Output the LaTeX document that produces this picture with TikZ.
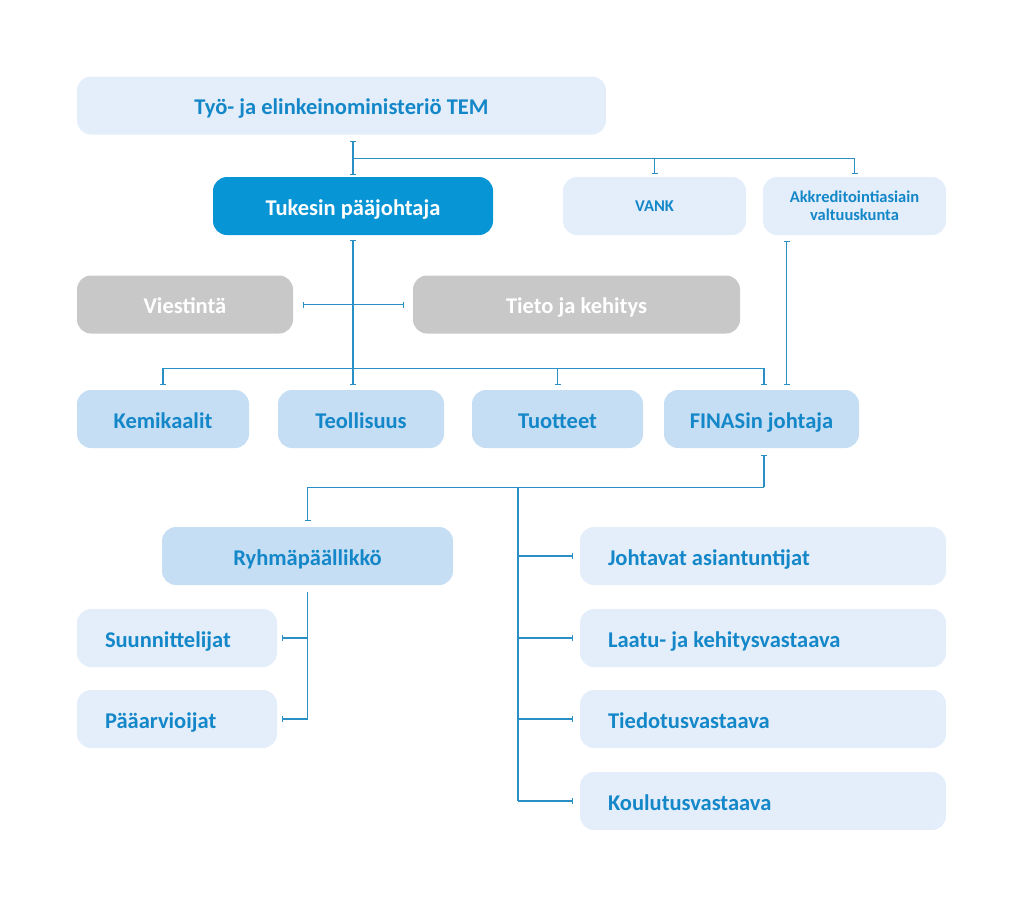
\documentclass[tikz,border=0pt]{standalone}
\usepackage{fontspec}
\setmainfont{Carlito}
\usetikzlibrary{arrows.meta,calc}
\definecolor{lightbox}{HTML}{E3EEFA}
\definecolor{midbox}{HTML}{C6DEF4}
\definecolor{darkbox}{HTML}{0895D6}
\definecolor{greybox}{HTML}{C8C8C8}
\definecolor{bluetext}{HTML}{1487C9}
\definecolor{linec}{HTML}{2A8FC4}
\tikzset{
  box/.style={rounded corners=14pt, inner sep=0pt, minimum height=58pt, font=\fontsize{22.5}{26}\selectfont\bfseries, text=bluetext, text height=18pt, text depth=0pt},
  lightb/.style={box, fill=lightbox},
  midb/.style={box, fill=midbox},
  darkb/.style={box, fill=darkbox, text=white},
  greyb/.style={box, fill=greybox, text=white},
  leftb/.style={lightb, inner xsep=28pt, text width=#1, align=flush left},
  smallb/.style={box, fill=lightbox, font=\fontsize{16.5}{17.5}\selectfont\bfseries, align=center, text height=, text depth=},
  conn/.style={draw=linec, line width=1.3pt},
  cE/.style={conn, -{Bar[width=6pt,line width=1.2pt]}},
  cS/.style={conn, {Bar[width=6pt,line width=1.2pt]}-},
  cSE/.style={conn, {Bar[width=6pt,line width=1.2pt]}-{Bar[width=6pt,line width=1.2pt]}}
}
\begin{document}
\begin{tikzpicture}[x=1pt,y=-1pt]
\useasboundingbox (0,0) rectangle (1024,908);
% boxes
\node[lightb, minimum width=529pt] (tem) at (341.5,105.5) {Työ- ja elinkeinoministeriö TEM};
\node[darkb, minimum width=280pt] (tuk) at (353,206) {Tukesin pääjohtaja};
\node[smallb, minimum width=183pt] (vank) at (654.5,206) {VANK};
\node[smallb, minimum width=183pt] (akk) at (854.5,206) {Akkreditointiasiain\\valtuuskunta};
\node[greyb, minimum width=216pt] (vie) at (185,304.5) {Viestintä};
\node[greyb, minimum width=327pt] (tie) at (576.5,304.5) {Tieto ja kehitys};
\node[midb, minimum width=172pt] (kem) at (163,419) {Kemikaalit};
\node[midb, minimum width=166pt] (teo) at (361,419) {Teollisuus};
\node[midb, minimum width=171pt] (tuo) at (557.5,419) {Tuotteet};
\node[midb, minimum width=195pt] (fin) at (761.5,419) {FINASin johtaja};
\node[midb, minimum width=291pt] (ryh) at (307.5,556) {Ryhmäpäällikkö};
\node[leftb=144pt] (suu) at (177,638) {Suunnittelijat};
\node[leftb=144pt] (paa) at (177,719) {Pääarvioijat};
\node[leftb=310pt] (joh) at (763,556) {Johtavat asiantuntijat};
\node[leftb=310pt] (laa) at (763,638) {Laatu- ja kehitysvastaava};
\node[leftb=310pt] (tied) at (763,719) {Tiedotusvastaava};
\node[leftb=310pt] (kou) at (763,801) {Koulutusvastaava};
% TEM connectors
\coordinate (j1) at ($(tem.south -| tuk.north)+(0,24)$);
\draw[cSE] ($(tem.south -| tuk.north)+(0,6)$) -- ([yshift=2pt]tuk.north);
\draw[conn] (j1) -- (j1 -| akk.north);
\draw[cE] (j1 -| vank.north) -- ([yshift=3pt]vank.north);
\draw[cE] (j1 -| akk.north) -- ([yshift=3pt]akk.north);
% Tukesin connectors
\coordinate (j2) at ($(tuk.south)+(0,133)$);
\coordinate (finin) at ([xshift=2.5pt]fin.north);
\draw[cS] ([yshift=-5pt]tuk.south) -- (j2);
\draw[cSE] ([xshift=10pt]vie.east) -- ([xshift=-9pt]tie.west);
\draw[conn] (j2 -| kem.north) -- (j2 -| finin);
\draw[cE] (j2 -| kem.north) -- ([yshift=5pt]kem.north);
\draw[cE] (j2) -- ([yshift=5pt]tuk.south |- teo.north);
\draw[cE] (j2 -| tuo.north) -- ([yshift=5pt]tuo.north);
\draw[cE] (j2 -| finin) -- ([yshift=5pt]finin);
% Akkreditointi -> FINAS
\coordinate (akkx) at ([xshift=25pt]fin.north);
\draw[cSE] ([yshift=-6pt]akk.south -| akkx) -- ([yshift=5pt]akkx);
% FINAS connectors
\coordinate (j3) at ($(fin.south -| finin)+(0,39)$);
\coordinate (j4) at ($(j3 -| ryh.north)+(210.5,0)$);
\draw[cS] ([yshift=-7pt]fin.south -| finin) -- (j3);
\draw[cE] (j3) -| ([yshift=6pt]ryh.north);
\draw[conn] (j4) -- (j4 |- kou.west);
\draw[cE] (j4 |- joh.west) -- ([xshift=-7pt]joh.west);
\draw[cE] (j4 |- laa.west) -- ([xshift=-7pt]laa.west);
\draw[cE] (j4 |- tied.west) -- ([xshift=-7pt]tied.west);
\draw[cE] (j4 |- kou.west) -- ([xshift=-7pt]kou.west);
% Ryhmäpäällikkö connectors
\coordinate (j5) at ([yshift=-7pt]ryh.south);
\draw[conn] (j5) -- (j5 |- paa.east);
\draw[cE] (j5 |- suu.east) -- ([xshift=5pt]suu.east);
\draw[cE] (j5 |- paa.east) -- ([xshift=5pt]paa.east);
\end{tikzpicture}
\end{document}
